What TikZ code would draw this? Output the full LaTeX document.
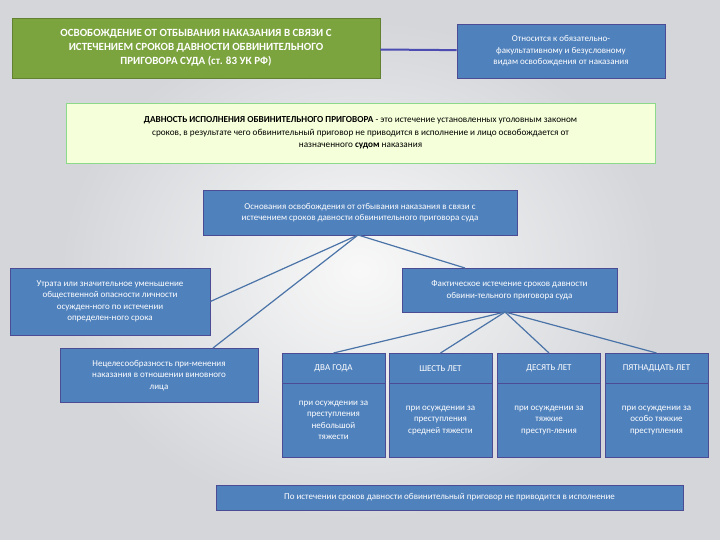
\documentclass[tikz,border=0pt]{standalone}
\usepackage{fontspec}
\setmainfont{Carlito}
\begin{document}
\begin{tikzpicture}[x=1pt,y=-1pt,
 bx/.style={draw=blue!40!black!70,fill=bl,line width=0.8pt,text=white,align=center,inner sep=2pt,font=\fontsize{9}{11.5}\selectfont},
 ln/.style={draw=lnc,line width=1.2pt}]
\definecolor{bl}{HTML}{4F81BD}
\definecolor{lnc}{HTML}{4A73A8}
\definecolor{gr}{HTML}{7BA33E}
\definecolor{bg}{HTML}{D4D6DA}
\fill[bg] (0,0) rectangle (720,540);
\shade[inner color=white!95!gray,outer color=bg] (60,20) rectangle (660,520);
\useasboundingbox (0,0) rectangle (720,540);
\node[bx,draw=gr!80!black,fill=gr,minimum width=368pt,minimum height=60pt,font=\bfseries\fontsize{11}{14}\selectfont] (t) at (196,48) {ОСВОБОЖДЕНИЕ ОТ ОТБЫВАНИЯ НАКАЗАНИЯ В СВЯЗИ С\\ИСТЕЧЕНИЕМ СРОКОВ ДАВНОСТИ ОБВИНИТЕЛЬНОГО\\ПРИГОВОРА СУДА (ст. 83 УК РФ)};
\node[bx,minimum width=208pt,minimum height=54pt] (r) at (561,51) {Относится к обязательно-\\факультативному и безусловному\\видам освобождения от наказания};
\draw[ln,line width=2pt,draw=gray!60!blue] (t) -- (r);
\node[draw=green!50!gray!60,fill=green!25!yellow!15,line width=0.8pt,minimum width=589pt,minimum height=60pt,align=center,font=\fontsize{9.2}{12.5}\selectfont] (d) at (360.5,133) {\textbf{ДАВНОСТЬ ИСПОЛНЕНИЯ ОБВИНИТЕЛЬНОГО ПРИГОВОРА} - это истечение установленных уголовным законом\\сроков, в результате чего обвинительный приговор не приводится в исполнение и лицо освобождается от\\назначенного \textbf{судом} наказания};
\node[bx,minimum width=314pt,minimum height=45pt] (b) at (360,212.5) {Основания освобождения от отбывания наказания в связи с\\истечением сроков давности обвинительного приговора суда};
\node[bx,minimum width=200pt,minimum height=67pt] (l1) at (110,301.5) {Утрата или значительное уменьшение\\общественной опасности личности\\осужден-ного по истечении\\определен-ного срока};
\node[bx,minimum width=198pt,minimum height=54pt,anchor=north] (l2) at (159,348) {Нецелесообразность при-менения\\наказания в отношении виновного\\лица};
\node[bx,minimum width=215pt,minimum height=44pt] (f) at (509.5,290) {Фактическое истечение сроков давности\\обвини-тельного приговора суда};
\coordinate (bs) at (358,235);
\draw[ln] (bs) -- (l1.east);
\draw[ln] (bs) -- (213,348);
\draw[ln] (bs) -- (465,268);
\foreach \n/\x/\h/\t in {a/333.5/ДВА ГОДА/{при осуждении за\\преступления\\небольшой\\тяжести},
 c/440.5/ШЕСТЬ ЛЕТ/{при осуждении за\\преступления\\средней тяжести},
 e/549/ДЕСЯТЬ ЛЕТ/{при осуждении за\\тяжкие\\преступ-ления},
 g/656.5/ПЯТНАДЦАТЬ ЛЕТ/{при осуждении за\\особо тяжкие\\преступления}}{
 \node[bx,minimum width=103pt,minimum height=30pt,anchor=north] (\n h) at (\x,353) {\h};
 \node[bx,minimum width=103pt,minimum height=74pt,anchor=north] (\n b) at (\x,383) {\t};
 \draw[ln] (505,312) -- (\n h.north);
}
\node[bx,minimum width=467pt,minimum height=25pt] (z) at (449.5,497.5) {По истечении сроков давности обвинительный приговор не приводится в исполнение};
\end{tikzpicture}
\end{document}
